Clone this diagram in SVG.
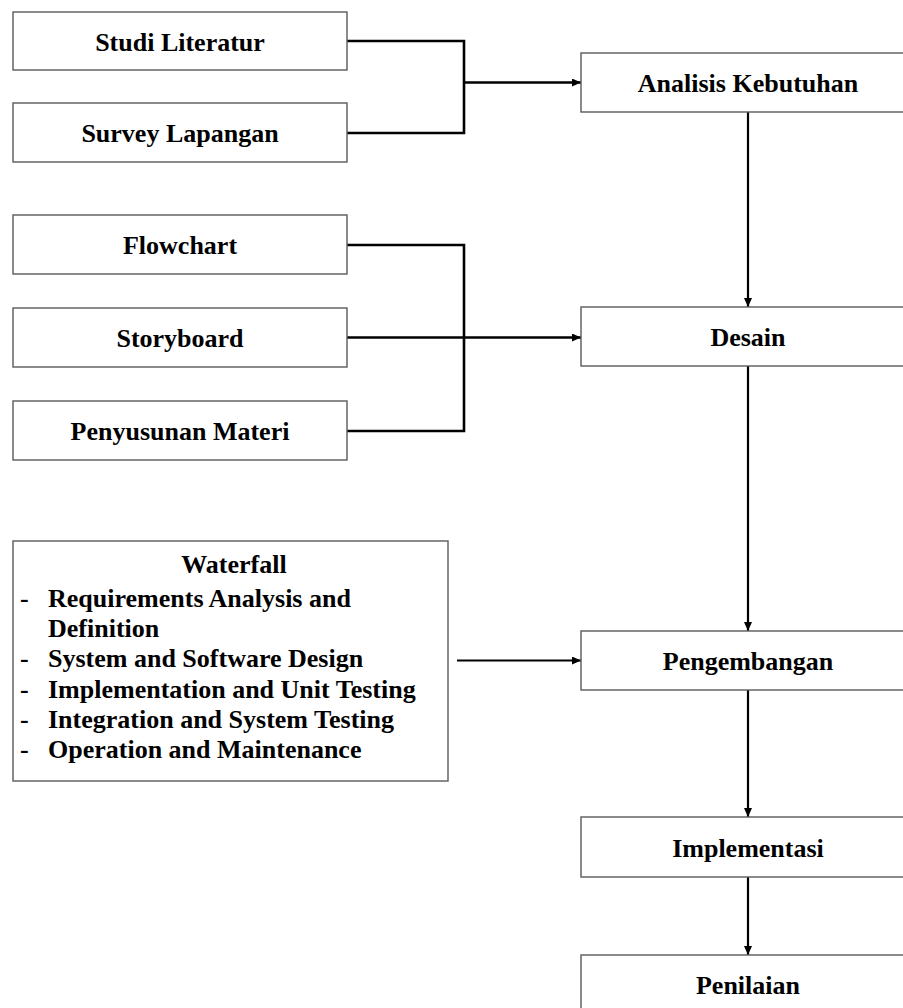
<svg xmlns="http://www.w3.org/2000/svg" width="903" height="1008" viewBox="0 0 903 1008">
<style>
.box{fill:#fff;stroke:#5a5a5a;stroke-width:1.4}
.t{font-family:"Liberation Serif","Times New Roman",serif;font-weight:bold;font-size:26px;fill:#000}
.c{text-anchor:middle}
.ln{fill:none;stroke:#000;stroke-width:2.6}
.lv{fill:none;stroke:#000;stroke-width:2.2}
</style>
<defs>
<marker id="ah" markerUnits="userSpaceOnUse" markerWidth="9" markerHeight="8" refX="9" refY="4" orient="auto">
<path d="M0,0 L9,4 L0,8 z" fill="#000"/>
</marker>
</defs>
<rect width="903" height="1008" fill="#fff"/>
<g id="connectors">
<path class="ln" d="M347,41 H464 V133 H347"/>
<path class="ln" d="M464,82.5 H581" marker-end="url(#ah)"/>
<path class="ln" d="M347,245 H464 V431 H347"/>
<path class="ln" d="M347,337.5 H581" marker-end="url(#ah)"/>
<path class="lv" d="M748,112 V307" marker-end="url(#ah)"/>
<path class="lv" d="M748,366 V631" marker-end="url(#ah)"/>
<path class="lv" d="M457,660.5 H581" marker-end="url(#ah)"/>
<path class="lv" d="M748,690 V817" marker-end="url(#ah)"/>
<path class="lv" d="M748,877 V955" marker-end="url(#ah)"/>
</g>
<g id="studi"><rect class="box" x="13" y="12" width="334" height="58"/><text class="t c" x="180" y="50.5">Studi Literatur</text></g>
<g id="survey"><rect class="box" x="13" y="103" width="334" height="59"/><text class="t c" x="180" y="142">Survey Lapangan</text></g>
<g id="flowchart"><rect class="box" x="13" y="215" width="334" height="59"/><text class="t c" x="180" y="254">Flowchart</text></g>
<g id="storyboard"><rect class="box" x="13" y="308" width="334" height="59"/><text class="t c" x="180" y="347">Storyboard</text></g>
<g id="penyusunan"><rect class="box" x="13" y="401" width="334" height="59"/><text class="t c" x="180" y="440">Penyusunan Materi</text></g>
<g id="waterfall"><rect class="box" x="13" y="541" width="435" height="240"/>
<text class="t c" x="234" y="573">Waterfall</text>
<text class="t" x="20" y="607">-</text><text class="t" x="48" y="607">Requirements Analysis and</text>
<text class="t" x="48" y="637">Definition</text>
<text class="t" x="20" y="667">-</text><text class="t" x="48" y="667">System and Software Design</text>
<text class="t" x="20" y="698">-</text><text class="t" x="48" y="698">Implementation and Unit Testing</text>
<text class="t" x="20" y="728">-</text><text class="t" x="48" y="728">Integration and System Testing</text>
<text class="t" x="20" y="758">-</text><text class="t" x="48" y="758">Operation and Maintenance</text>
</g>
<g id="analisis"><rect class="box" x="581" y="53" width="334" height="59"/><text class="t c" x="748" y="92">Analisis Kebutuhan</text></g>
<g id="desain"><rect class="box" x="581" y="307" width="334" height="59"/><text class="t c" x="748" y="346">Desain</text></g>
<g id="pengembangan"><rect class="box" x="581" y="631" width="334" height="59"/><text class="t c" x="748" y="670">Pengembangan</text></g>
<g id="implementasi"><rect class="box" x="581" y="817" width="334" height="60"/><text class="t c" x="748" y="857">Implementasi</text></g>
<g id="penilaian"><rect class="box" x="581" y="955" width="334" height="60"/><text class="t c" x="748" y="994">Penilaian</text></g>
</svg>
